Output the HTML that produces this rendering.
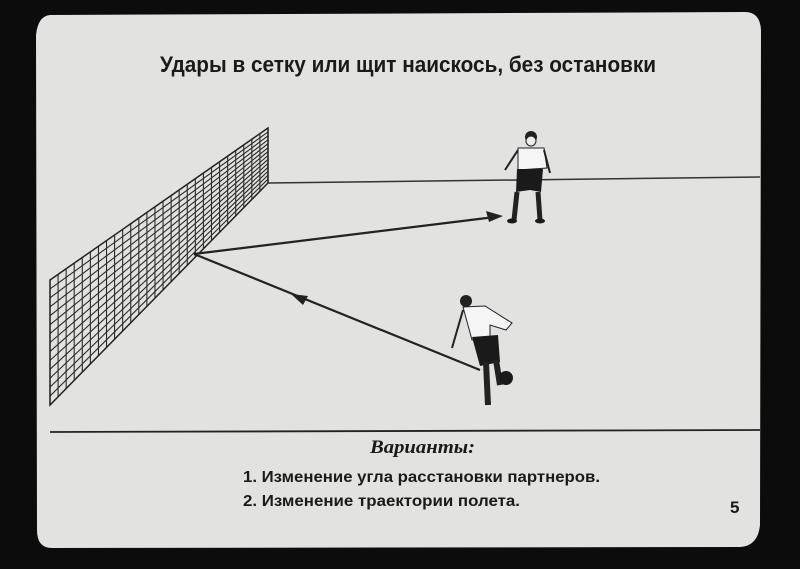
<!DOCTYPE html>
<html><head><meta charset="utf-8"><style>
html,body{margin:0;padding:0;background:#0c0c0c;width:800px;height:569px;overflow:hidden}
svg{display:block}
.t{font-family:"Liberation Sans","DejaVu Sans",sans-serif;font-weight:bold;fill:#1a1a1a}
.i{font-family:"Liberation Serif",serif;font-style:italic;font-weight:bold;fill:#1a1a1a}
</style></head><body>
<svg width="800" height="569" viewBox="0 0 800 569" xmlns="http://www.w3.org/2000/svg">
<path d="M50 15 L745 12 Q760 12 761 30 L760 525 Q758 546 740 547 L52 548 Q37 548 37 530 L36 35 Q38 16 50 15 Z" fill="#e2e2e0"/>
<text class="t" x="160" y="72" font-size="22" textLength="496" lengthAdjust="spacingAndGlyphs">Удары в сетку или щит наискось, без остановки</text>
<g id="net" stroke="#2a2a2a" stroke-width="1.1" fill="none"></g>
<path d="M50 280 L268 128 L268 183 L50 405 Z" fill="none" stroke="#222" stroke-width="1.5"/>
<line x1="268" y1="183" x2="760" y2="177" stroke="#333" stroke-width="1.5"/>
<line x1="50" y1="432" x2="760" y2="430" stroke="#222" stroke-width="1.8"/>
<line x1="194" y1="254" x2="495" y2="217" stroke="#222" stroke-width="2.2"/>
<polygon points="503,216 486,211 489,222" fill="#222"/>
<line x1="194" y1="254" x2="480" y2="370" stroke="#222" stroke-width="2.2"/>
<polygon points="291,294 308,296 303,305" fill="#222"/>
<circle cx="531" cy="137" r="6" fill="#222"/>
<circle cx="531" cy="141" r="5" fill="#eee" stroke="#222"/>
<path d="M518 148 L544 148 L547 168 L518 170 Z" fill="#f5f5f5" stroke="#222"/>
<path d="M518 150 L505 170 M544 150 L550 173" stroke="#222" stroke-width="2" fill="none"/>
<path d="M517 169 L543 169 L541 192 L530 190 L516 192 Z" fill="#1a1a1a"/>
<path d="M517 192 L514 220 M538 192 L540 220" stroke="#222" stroke-width="5"/>
<ellipse cx="512" cy="221" rx="5" ry="2.5" fill="#1a1a1a"/><ellipse cx="540" cy="221" rx="5" ry="2.5" fill="#1a1a1a"/>
<circle cx="466" cy="301" r="6" fill="#222"/>
<path d="M463 307 L485 306 L512 323 L506 330 L490 325 L490 338 L472 340 Z" fill="#f5f5f5" stroke="#222"/>
<path d="M463 310 L452 348" stroke="#222" stroke-width="2"/>
<path d="M472 337 L498 335 L500 362 L480 366 Z" fill="#1a1a1a"/>
<path d="M486 362 L488 405 M496 360 L500 385" stroke="#222" stroke-width="6"/>
<circle cx="506" cy="378" r="7" fill="#1a1a1a"/>
<text class="i" x="370" y="453" font-size="19" textLength="105" lengthAdjust="spacingAndGlyphs">Варианты:</text>
<text class="t" x="243" y="482" font-size="16" textLength="357" lengthAdjust="spacingAndGlyphs">1. Изменение угла расстановки партнеров.</text>
<text class="t" x="243" y="506" font-size="16" textLength="277" lengthAdjust="spacingAndGlyphs">2. Изменение траектории полета.</text>
<text class="t" x="730" y="513" font-size="17">5</text>
</svg>
<script>
var g=document.getElementById('net'),s='';
for(var i=0;i<=27;i++){var x=50+218*i/27,t=280-(x-50)*152/218,b=405-(x-50)*222/218;s+='<line x1="'+x+'" y1="'+t+'" x2="'+x+'" y2="'+b+'"/>';}
for(var j=1;j<14;j++){var f=j/14;s+='<line x1="50" y1="'+(280+125*f)+'" x2="268" y2="'+(128+55*f)+'"/>';}
g.innerHTML=s;
</script>
</body></html>
